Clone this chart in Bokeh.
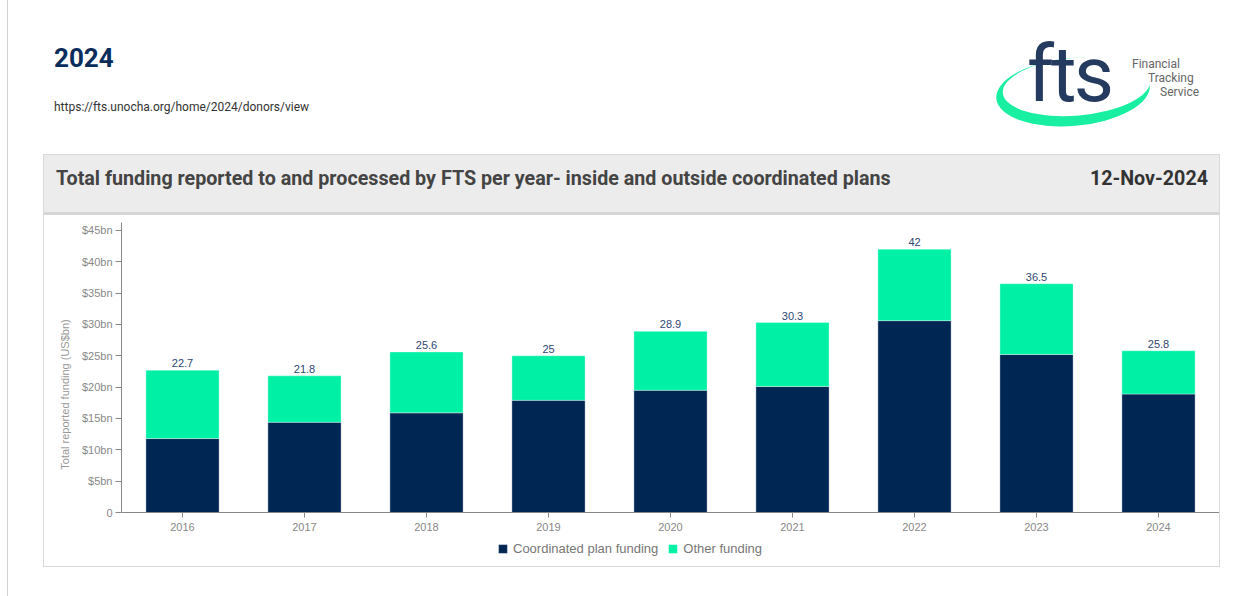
from bokeh.plotting import figure
from bokeh.models import (ColumnDataSource, Legend, LegendItem, FixedTicker, Range1d, Div)
from bokeh.layouts import column
from bokeh.core.properties import value
from bokeh.embed import file_html
from bokeh.resources import INLINE

# ---- data ----
years = ["2016", "2017", "2018", "2019", "2020", "2021", "2022", "2023", "2024"]
totals = [22.7, 21.8, 25.6, 25.0, 28.9, 30.3, 42.0, 36.5, 25.8]
coordinated = [11.8, 14.4, 15.9, 17.9, 19.5, 20.1, 30.6, 25.2, 18.9]
ytick_values = [0, 5, 10, 15, 20, 25, 30, 35, 40, 45]
ytick_labels = ["0", "$5bn", "$10bn", "$15bn", "$20bn", "$25bn", "$30bn", "$35bn", "$40bn", "$45bn"]
series_names = ["Coordinated plan funding", "Other funding"]
page_title = "2024"
page_url = "https://fts.unocha.org/home/2024/donors/view"
chart_title = "Total funding reported to and processed by FTS per year- inside and outside coordinated plans"
chart_date = "12-Nov-2024"

other = [round(t - c, 2) for t, c in zip(totals, coordinated)]
labels = [f"{t:g}" for t in totals]

NAVY = "#002654"
GREEN = "#00F0A6"
Y_TOP = 46.25
Y_BOTTOM = -8.6   # room under the zero line for tick labels and legend

src = ColumnDataSource(dict(year=years, coord=coordinated, other=other,
                            total=totals, label=labels))

# ---- top area (page title, url, logo) ----
top_html = f"""
<div style="position:relative;width:1249px;height:154px;font-family:Roboto,sans-serif;">
  <div style="position:absolute;left:46px;top:43px;font-size:26px;line-height:30px;font-weight:bold;color:#0b2d5c;">{page_title}</div>
  <div style="position:absolute;left:46px;top:99px;font-size:12px;line-height:16px;color:#333;">{page_url}</div>
  <svg style="position:absolute;left:972px;top:30px;" width="240" height="110">
    <g transform="rotate(-5 92 62)">
      <ellipse cx="93" cy="62" rx="77" ry="34" fill="#19EFA0"/>
      <ellipse cx="97" cy="57" rx="74" ry="29" fill="#ffffff"/>
    </g>
    <text x="47" y="71" font-family="Roboto" font-size="78" fill="#243a5e" letter-spacing="-3">fts</text>
    <text x="152" y="38" font-family="Roboto" font-size="12" fill="#666">Financial</text>
    <text x="168" y="52" font-family="Roboto" font-size="12" fill="#666">Tracking</text>
    <text x="180" y="66" font-family="Roboto" font-size="12" fill="#666">Service</text>
  </svg>
</div>
"""
top_div = Div(text=top_html, width=1249, height=154, margin=0)

header_html = f"""
<div style="position:relative;width:1175px;height:60px;font-family:Roboto,sans-serif;">
  <div style="position:absolute;left:0;top:0;width:1175px;height:57px;background:#ececec;"></div>
  <div style="position:absolute;left:0;top:57px;width:1175px;height:3px;background:#d6d6d6;"></div>
  <div style="position:absolute;left:12px;top:12px;font-size:19.7px;line-height:24px;font-weight:bold;color:#444;white-space:nowrap;">{chart_title}</div>
  <div style="position:absolute;right:11px;top:12px;font-size:19.7px;line-height:24px;font-weight:bold;color:#333;white-space:nowrap;">{chart_date}</div>
</div>
"""
header_div = Div(text=header_html, width=1175, height=60, margin=0)

# ---- chart ----
p = figure(width=1175, height=351, x_range=years, y_range=Range1d(Y_BOTTOM, Y_TOP),
           output_backend="svg", toolbar_location=None, sizing_mode="fixed",
           min_border_left=77, min_border_right=0,
           min_border_top=7, min_border_bottom=0)
p.outline_line_color = None
p.grid.grid_line_color = None
p.x_range.range_padding = 0

rs = p.vbar_stack(["coord", "other"], x="year", width=0.6, source=src,
                  fill_color=[NAVY, GREEN], line_color="white", line_alpha=0.35,
                  line_width=1)

p.text(x="year", y="total", text="label", source=src, y_offset=-3,
       text_align="center", text_baseline="bottom", text_font_size="11px",
       text_color="#2e4873", text_font=value("Liberation Sans"))

ya = p.yaxis[0]
ya.ticker = FixedTicker(ticks=ytick_values)
ya.bounds = (0, Y_TOP)
ya.major_label_overrides = {v: l for v, l in zip(ytick_values, ytick_labels)}
ya.minor_tick_line_color = None
ya.major_tick_in = 0
ya.major_tick_out = 6
ya.major_label_standoff = 3
ya.axis_line_color = "#888888"
ya.major_tick_line_color = "#888888"
ya.major_label_text_color = "#888888"
ya.major_label_text_font_size = "11px"
ya.major_label_text_font = "Liberation Sans"
ya.axis_label = "Total reported funding (US$bn)"
ya.axis_label_text_font_size = "11px"
ya.axis_label_text_font_style = "normal"
ya.axis_label_text_color = "#999999"
ya.axis_label_text_font = "Liberation Sans"
ya.axis_label_standoff = 8

xa = p.xaxis[0]
xa.fixed_location = 0
xa.major_tick_in = 0
xa.major_tick_out = 5
xa.major_label_standoff = 5
xa.axis_line_color = "#888888"
xa.major_tick_line_color = "#888888"
xa.major_label_text_color = "#888888"
xa.major_label_text_font_size = "11px"
xa.major_label_text_font = "Liberation Sans"

legend = Legend(items=[LegendItem(label=series_names[0], renderers=[rs[0]]),
                       LegendItem(label=series_names[1], renderers=[rs[1]])],
                orientation="horizontal", location=(376, 10),
                padding=0, margin=0, spacing=9, label_standoff=5,
                glyph_width=11, glyph_height=11, label_height=11,
                label_text_font_size="13px", label_text_color="#777777",
                label_text_font="Liberation Sans",
                border_line_alpha=0, background_fill_alpha=0)
p.add_layout(legend)

card = column(header_div, p, margin=(0, 0, 0, 35), spacing=0,
              styles={"border": "1px solid #d9d9d9"})
root = column(top_div, card, margin=(0, 0, 0, 7), spacing=0,
              styles={"border-left": "1px solid #d0d0d0", "min-height": "596px"})

open("out.html", "w").write(file_html(root, INLINE))
